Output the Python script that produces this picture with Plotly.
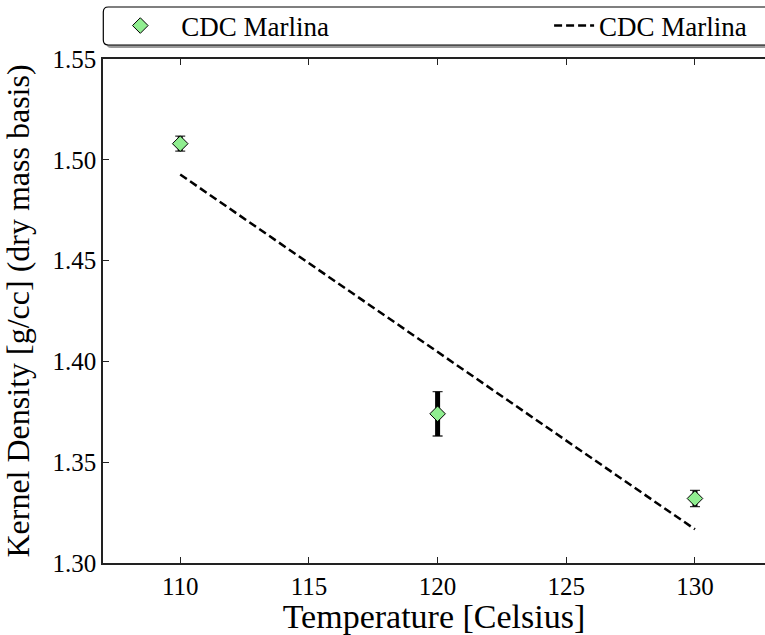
import plotly.graph_objects as go

# Measured kernel density vs drying temperature
temperature = [110, 120, 130]
density = [1.508, 1.374, 1.332]
density_err = [0.0037, 0.011, 0.004]

# Linear fit evaluated at the end temperatures
fit_temperature = [110, 130]
fit_density = [1.4927, 1.3167]

series_name = "CDC Marlina"

FONT = "Liberation Serif"

# plot-area geometry in pixels (used for paper-coordinate helpers)
FIG_W, FIG_H = 765, 635
M_L, M_T, M_B = 102.7, 59, 72
PW = FIG_W - M_L
PH = FIG_H - M_T - M_B


def px(x):
    return (x - M_L) / PW


def py(y):
    return (FIG_H - M_B - y) / PH


def rounded_rect(x0, y0, x1, y1, r):
    # pixel coords -> path in paper coords with rounded corners
    rx, ry = r / PW, r / PH
    X0, X1 = px(x0), px(x1)
    Yt, Yb = py(y0), py(y1)
    return (f"M{X0 + rx},{Yt} L{X1 - rx},{Yt} Q{X1},{Yt} {X1},{Yt - ry} "
            f"L{X1},{Yb + ry} Q{X1},{Yb} {X1 - rx},{Yb} "
            f"L{X0 + rx},{Yb} Q{X0},{Yb} {X0},{Yb + ry} "
            f"L{X0},{Yt - ry} Q{X0},{Yt} {X0 + rx},{Yt} Z")


fig = go.Figure()

# error-bar caps (thin)
fig.add_trace(go.Scatter(
    x=temperature, y=density, mode="markers",
    marker=dict(size=1, color="rgba(0,0,0,0)"),
    error_y=dict(type="data", array=density_err, visible=True,
                 color="#333333", thickness=1.3, width=5),
    showlegend=False, hoverinfo="skip",
))

# thick error bars + diamond markers
fig.add_trace(go.Scatter(
    x=temperature, y=density, mode="markers", name=series_name,
    marker=dict(symbol="diamond", size=12, color="#90EE90",
                line=dict(color="black", width=1)),
    error_y=dict(type="data", array=density_err, visible=True,
                 color="black", thickness=5, width=0),
    legend="legend",
))

# dashed fit line
fig.add_trace(go.Scatter(
    x=fit_temperature, y=fit_density, mode="lines", name=series_name,
    line=dict(color="black", width=2.5, dash="8px,4px"),
    legend="legend2",
))

# legend frame with drop shadow
fig.add_shape(type="path", xref="paper", yref="paper", layer="below",
              path=rounded_rect(106, 10, 790, 48, 5),
              fillcolor="#9a9a9a", line=dict(width=0))
fig.add_shape(type="path", xref="paper", yref="paper",
              path=rounded_rect(103, 7, 787, 45, 5),
              fillcolor="white", line=dict(color="black", width=1.2), layer="below")

axis_common = dict(
    showgrid=False, zeroline=False, showline=True, linecolor="#222222",
    linewidth=1.5, ticks="inside", ticklen=6, tickwidth=1, tickcolor="#222222",
    tickfont=dict(family=FONT, size=25, color="black"),
)

legend_common = dict(
    orientation="h", xanchor="left", y=py(26), yanchor="middle",
    bgcolor="rgba(0,0,0,0)", borderwidth=0,
    font=dict(family=FONT, size=27, color="black"),
)

fig.update_layout(
    width=FIG_W, height=FIG_H,
    margin=dict(l=M_L, r=0, t=M_T, b=M_B, autoexpand=False),
    paper_bgcolor="white", plot_bgcolor="white",
    xaxis=dict(range=[107, 107 + PW / 25.75], tickvals=[110, 115, 120, 125, 130],
               mirror="ticks",
               title=dict(text="Temperature [Celsius]", standoff=6,
                          font=dict(family=FONT, size=34, color="black")),
               **axis_common),
    yaxis=dict(range=[1.30, 1.55], tickvals=[1.30, 1.35, 1.40, 1.45, 1.50, 1.55],
               tickformat=".2f", mirror=False,
               title=dict(text="Kernel Density [g/cc] (dry mass basis)", standoff=15,
                          font=dict(family=FONT, size=32, color="black")),
               **axis_common),
    legend=dict(x=px(99), itemwidth=72, **legend_common),
    legend2=dict(x=px(549), itemwidth=40, **legend_common),
)

fig.write_html("out.html")
